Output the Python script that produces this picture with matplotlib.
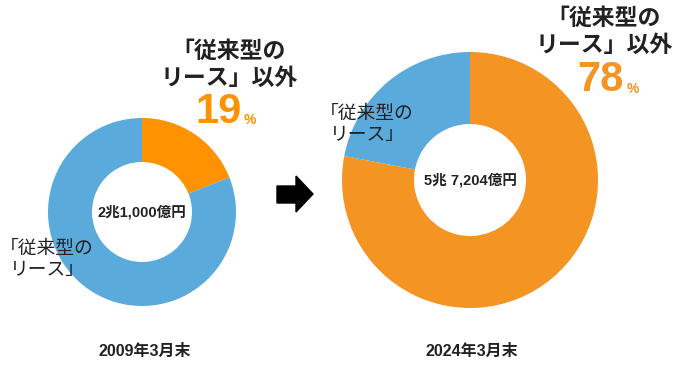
import matplotlib.pyplot as plt
from matplotlib.patches import Polygon

plt.rcParams['font.family'] = ['Liberation Sans', 'Noto Sans CJK JP', 'DejaVu Sans']

# data
years = ['2009年3月末', '2024年3月末']
totals = ['2兆1,000億円', '5兆 7,204億円']
other_share = [19, 78]          # 「従来型のリース」以外 (%)
lease_share = [81, 22]          # 「従来型のリース」 (%)
orange = ['#FF9200', '#F39423']
blue = '#5AAADC'

W, H = 680, 380
fig = plt.figure(figsize=(6.8, 3.8), dpi=100)

# donut geometry (pixels): center x, center y, outer radius, inner radius
donuts = [(142, 212, 94, 50), (470, 180, 128, 56)]

for i, (cx, cy, r, ri) in enumerate(donuts):
    ax = fig.add_axes([(cx - r) / W, (H - cy - r) / H, 2 * r / W, 2 * r / H])
    ax.pie([other_share[i], lease_share[i]], colors=[orange[i], blue],
           startangle=90, counterclock=False, radius=1,
           wedgeprops=dict(width=1 - ri / r, linewidth=0))
    ax.set_xlim(-1, 1)
    ax.set_ylim(-1, 1)
    ax.set_aspect('equal')
    ax.axis('off')
    ax.text(0, 0, totals[i], ha='center', va='center', fontsize=10.5,
            fontweight='bold', color='#222222')

# overlay axes in pixel coordinates for texts and the arrow (on top)
bg = fig.add_axes([0, 0, 1, 1])
bg.set_xlim(0, W)
bg.set_ylim(H, 0)
bg.axis('off')
bg.patch.set_alpha(0)

# bottom year labels
bg.text(145, 351, years[0], ha='center', va='center', fontsize=11.5,
        fontweight='bold', color='#222222')
bg.text(472, 351, years[1], ha='center', va='center', fontsize=11.5,
        fontweight='bold', color='#222222')

# "other than conventional lease" labels
lbl = '「従来型の\nリース」以外'
bg.text(229, 65, lbl, ha='center', va='center', fontsize=16.5,
        fontweight='bold', color='#222222', linespacing=1.2)
bg.text(604, 32, lbl, ha='center', va='center', fontsize=16.5,
        fontweight='bold', color='#222222', linespacing=1.2)

bg.text(219, 112, str(other_share[0]), ha='center', va='center', fontsize=30,
        fontweight='bold', color=orange[0])
bg.text(250, 120, '%', ha='center', va='center', fontsize=10,
        fontweight='bold', color=orange[0])
bg.text(600, 80, str(other_share[1]), ha='center', va='center', fontsize=30,
        fontweight='bold', color=orange[1])
bg.text(633, 89, '%', ha='center', va='center', fontsize=10,
        fontweight='bold', color=orange[1])

# conventional lease labels
lbl2 = '「従来型の\nリース」'
bg.text(47, 260, lbl2, ha='center', va='center', fontsize=13.5,
        color='#222222', linespacing=1.3)
bg.text(367, 125, lbl2, ha='center', va='center', fontsize=13.5,
        color='#222222', linespacing=1.3)

# arrow
arrow = Polygon([(277, 186), (296, 186), (296, 176), (313, 194),
                 (296, 212), (296, 203), (277, 203)],
                closed=True, color='black')
bg.add_patch(arrow)

fig.savefig('out.png', dpi=100)
